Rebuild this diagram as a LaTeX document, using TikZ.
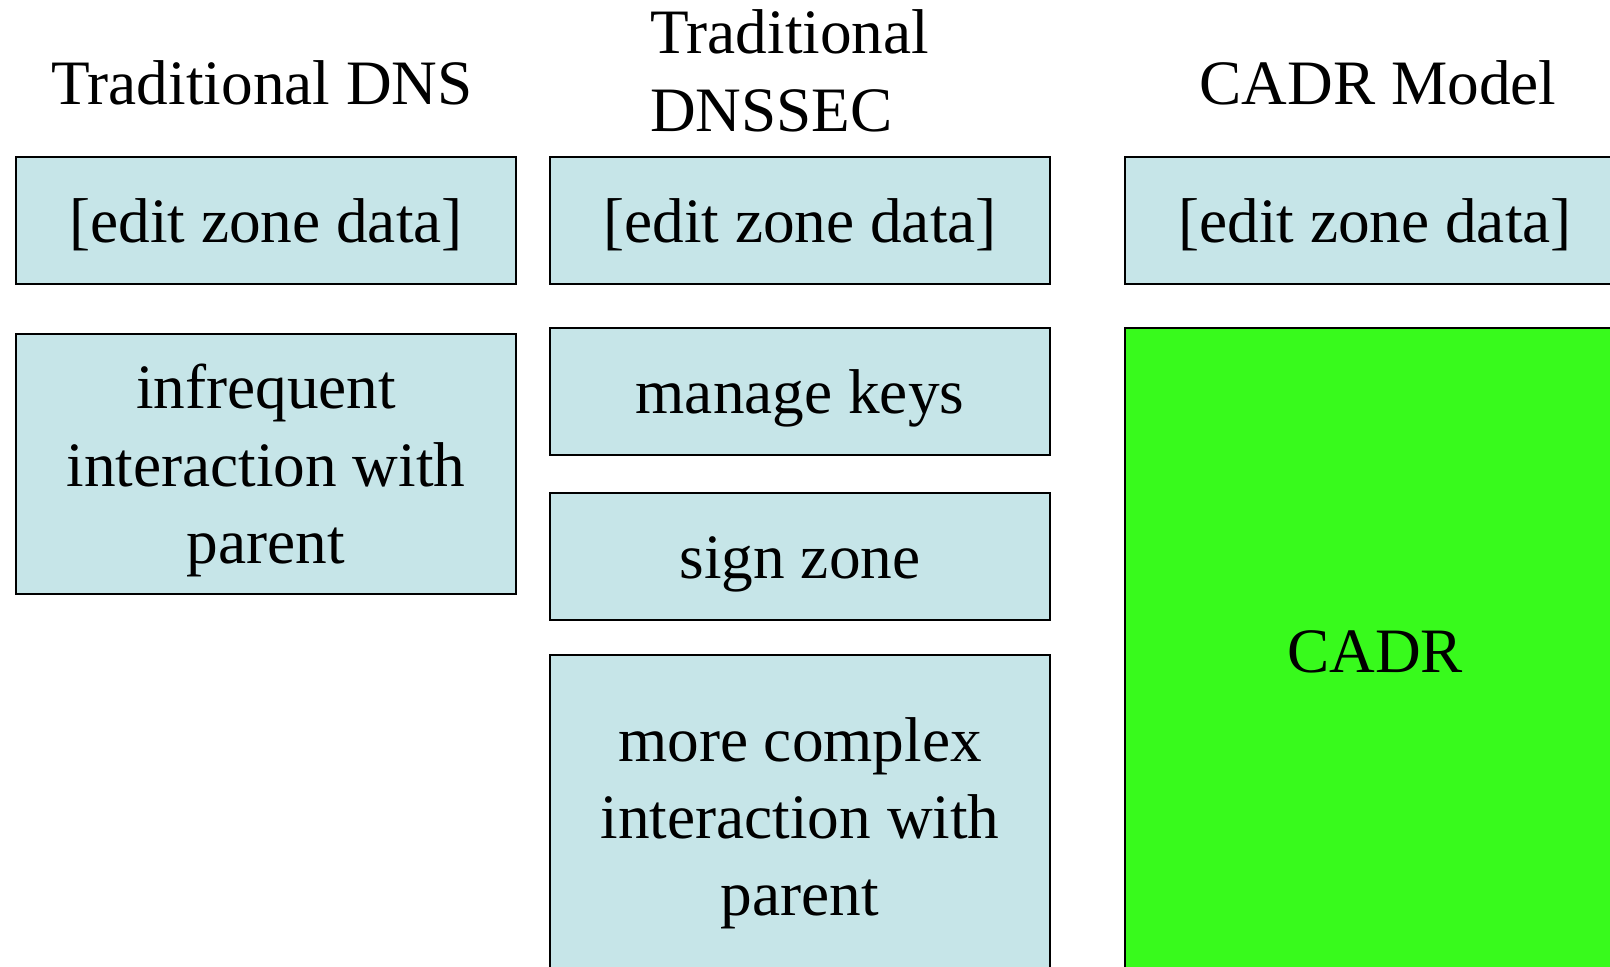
\documentclass[tikz,border=0pt]{standalone}
\usepackage{fontspec}
\setmainfont{Liberation Serif}
\usepackage{xcolor}
\usetikzlibrary{positioning}

\definecolor{boxblue}{RGB}{198,229,232}
\definecolor{cadrgreen}{RGB}{56,250,28}

\begin{document}
\begin{tikzpicture}[node distance=1.1cm,
    box/.style={rectangle, draw, line width=1.4pt, fill=boxblue, minimum width=12.5cm, minimum height=3.175cm, align=center, inner sep=0pt, text depth=0pt},
    onebox/.style={box, text height=31pt},
    head/.style={inner sep=0pt},
    every node/.style={font=\fontsize{45}{55}\selectfont}]
    \useasboundingbox (0,0) rectangle (40.25,-24.15);
    % column headings
    \node [head, anchor=base] (hdns) at (6.55,-2.62) {Traditional DNS};
    \node [head, anchor=base west, align=left] (hsec) at (16.25,-3.28) {Traditional\\DNSSEC};
    \node [head, anchor=base] (hcadr) at (34.45,-2.62) {CADR Model};
    % traditional DNS
    \node [onebox] (dnsedit) at (6.65,-5.51) {[edit zone data]};
    \node [box, minimum height=6.5cm, below=1.2cm of dnsedit] (dnsparent) {infrequent\\interaction with\\parent};
    % traditional DNSSEC
    \node [onebox] (secedit) at (20,-5.51) {[edit zone data]};
    \node [onebox, below=1.05cm of secedit] (keys) {manage keys};
    \node [onebox, below=0.9cm of keys] (sign) {sign zone};
    \node [box, minimum height=8.1cm, below=0.82cm of sign] (secparent) {more complex\\interaction with\\parent};
    % CADR model
    \node [onebox] (cadredit) at (34.375,-5.51) {[edit zone data]};
    \node [box, fill=cadrgreen, minimum height=16.2cm, below=1.05cm of cadredit] (cadr) {CADR};
\end{tikzpicture}
\end{document}
